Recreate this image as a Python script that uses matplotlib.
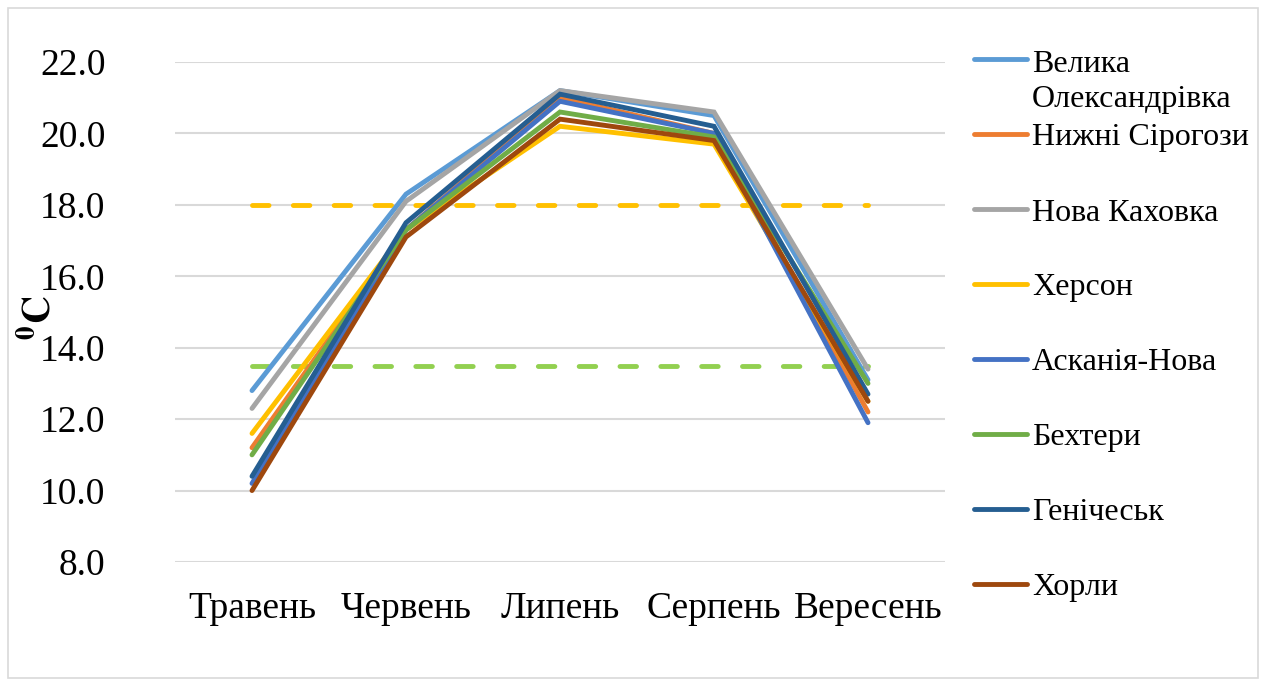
import matplotlib
matplotlib.use("Agg")
import matplotlib.pyplot as plt
from matplotlib.lines import Line2D
from matplotlib.patches import Rectangle

months = ["Травень", "Червень", "Липень", "Серпень", "Вересень"]
stations = ["Велика\nОлександрівка", "Нижні Сірогози", "Нова Каховка", "Херсон",
            "Асканія-Нова", "Бехтери", "Генічеськ", "Хорли"]
velyka = [12.8, 18.3, 21.2, 20.5, 13.1]
nyzhni = [11.2, 17.3, 21.0, 20.0, 12.2]
nova_kakhovka = [12.3, 18.1, 21.2, 20.6, 13.4]
kherson = [11.6, 17.3, 20.2, 19.7, 12.5]
askania = [10.2, 17.3, 20.9, 20.0, 11.9]
bekhtery = [11.0, 17.3, 20.6, 19.9, 13.0]
henichesk = [10.4, 17.5, 21.1, 20.2, 12.7]
khorly = [10.0, 17.1, 20.4, 19.8, 12.5]
series = [velyka, nyzhni, nova_kakhovka, kherson, askania, bekhtery, henichesk, khorly]
colors = ["#5B9BD5", "#ED7D31", "#A5A5A5", "#FFC000", "#4472C4", "#70AD47", "#255E91", "#9E480E"]
threshold_high = [18.0] * 5
threshold_low = [13.5] * 5
yticks = [8.0, 10.0, 12.0, 14.0, 16.0, 18.0, 20.0, 22.0]

plt.rcParams['font.family'] = ['Liberation Serif', 'DejaVu Serif']
plt.rcParams['mathtext.fontset'] = 'stix'

W, H = 1267, 686
fig = plt.figure(figsize=(W / 100, H / 100), dpi=100)
ax = fig.add_axes([175 / W, (H - 562) / H, (945 - 175) / W, 500 / H])

x = list(range(len(months)))
LW = 3.5
ax.plot(x, threshold_high, color="#FFC000", lw=LW, ls=(0, (3.4, 5.0)),
        dash_capstyle='round', zorder=2)
ax.plot(x, threshold_low, color="#92D050", lw=LW, ls=(0, (3.4, 5.0)),
        dash_capstyle='round', zorder=2)
for vals, c in zip(series, colors):
    ax.plot(x, vals, color=c, lw=LW, solid_capstyle='round', solid_joinstyle='miter', zorder=3)

ax.set_xlim(-0.5, 4.5)
ax.set_ylim(8, 22)
ax.set_yticks(yticks)
ax.set_yticklabels([f"{v:.1f}" for v in yticks])
ax.set_xticks(x)
ax.set_xticklabels(months)
ax.grid(axis='y', color='#D9D9D9', lw=1.5, zorder=0)
ax.set_axisbelow(True)
for s in ax.spines.values():
    s.set_visible(False)
ax.tick_params(axis='y', length=0, pad=50, labelsize=27)
ax.tick_params(axis='x', length=0, pad=21, labelsize=27)

fig.text(40 / W, 1 - 318 / H, r"$\mathbf{^{0}C}$", rotation=90, ha='center', va='center', fontsize=28)

# legend
row_y = [59, 134, 209, 284, 359, 434, 509, 584]
for i, (lab, c, yy) in enumerate(zip(stations, colors, row_y)):
    fig.add_artist(Line2D([974 / W, 1027 / W], [1 - yy / H, 1 - yy / H], color=c, lw=3.5,
                          solid_capstyle='round', transform=fig.transFigure))
    if i == 0:
        fig.text(1032 / W, 1 - 64 / H, "Велика", ha='left', va='center', fontsize=23)
        fig.text(1032 / W, 1 - 99 / H, "Олександрівка", ha='left', va='center', fontsize=23)
    else:
        fig.text(1032 / W, 1 - (yy + 4) / H, lab, ha='left', va='center', fontsize=23)

fig.add_artist(Rectangle((8 / W, 8 / H), (W - 17) / W, (H - 16) / H, fill=False,
                         edgecolor='#D9D9D9', lw=1.2, transform=fig.transFigure))

fig.savefig("out.png", dpi=100)
